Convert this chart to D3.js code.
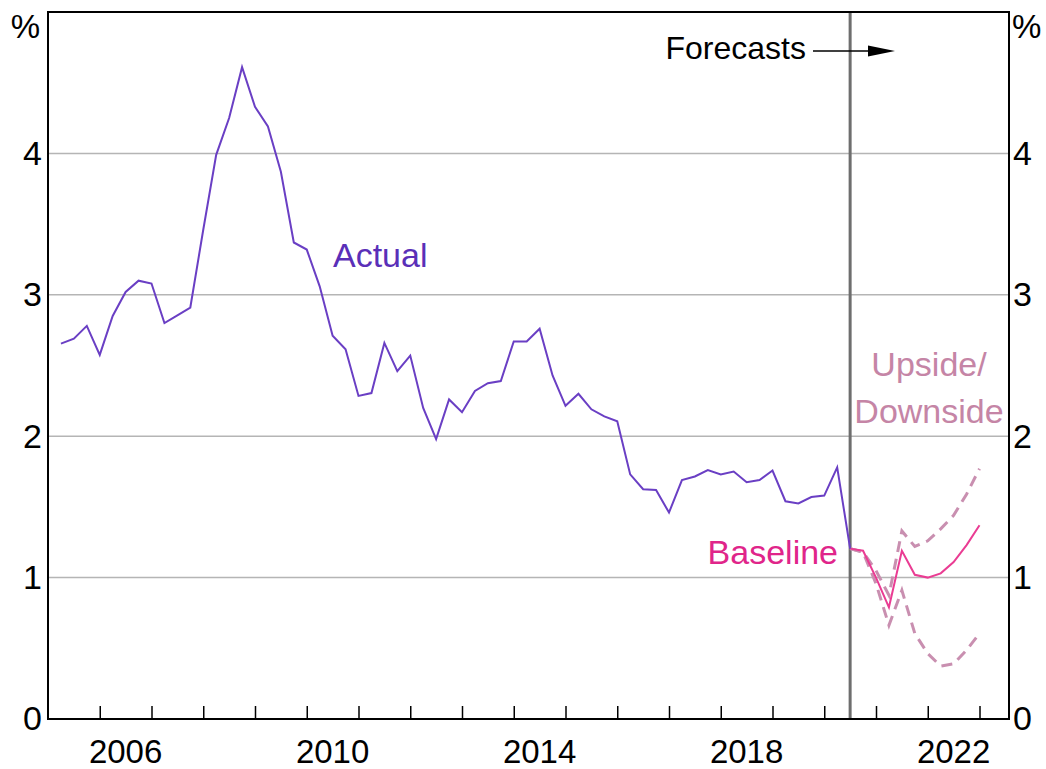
<!DOCTYPE html>
<html>
<head>
<meta charset="utf-8">
<script src="https://cdn.jsdelivr.net/npm/d3@7"></script>
<style>
  body { margin: 0; background: #fff; }
  svg text { font-family: "Liberation Sans", Arial, sans-serif; }
</style>
</head>
<body>
<svg width="1046" height="769"></svg>
<script>
// Year-ended growth, %, quarterly (quarter-end dates)
var actualValues = [2.655, 2.69, 2.78, 2.575, 2.85, 3.02, 3.10, 3.08, 2.80, 2.855, 2.91, 3.46,
  3.99, 4.25, 4.61, 4.33, 4.19, 3.87, 3.37, 3.32, 3.06, 2.71, 2.615, 2.285,
  2.305, 2.66, 2.46, 2.57, 2.20, 1.98, 2.26, 2.17, 2.32, 2.375, 2.39, 2.67,
  2.67, 2.76, 2.43, 2.215, 2.30, 2.19, 2.14, 2.105, 1.73, 1.625, 1.62, 1.46,
  1.69, 1.715, 1.76, 1.73, 1.75, 1.675, 1.69, 1.757, 1.54, 1.525, 1.57, 1.58,
  1.78, 1.205];
var baselineValues = [1.205, 1.19, 1.00, 0.79, 1.19, 1.02, 1.00, 1.03, 1.11, 1.23, 1.37];
var upsideValues   = [1.205, 1.18, 1.05, 0.875, 1.33, 1.22, 1.26, 1.345, 1.44, 1.59, 1.77];
var downsideValues = [1.205, 1.18, 0.957, 0.663, 0.91, 0.605, 0.463, 0.374, 0.39, 0.487, 0.605];
var actualStart = [2005, 1];   // March quarter 2005
var forecastStart = [2020, 2]; // June quarter 2020
var yTicks = [0, 1, 2, 3, 4];
var yearTicks = d3.range(2006, 2024);
var yearLabels = [2006, 2010, 2014, 2018, 2022];

// quarter -> fractional year at quarter end
function quarters(start, n) {
  return d3.range(n).map(function(i) {
    var q = start[1] - 1 + i;
    return start[0] + Math.floor(q / 4) + ((q % 4) + 1) / 4;
  });
}
function pairs(start, vals) {
  var t = quarters(start, vals.length);
  return vals.map(function(v, i) { return [t[i], v]; });
}

var svg = d3.select("svg");
var plotLeft = 48, plotRight = 1009, plotTop = 12, plotBottom = 719;

var x = d3.scaleLinear().domain([2005, 2023.57]).range([plotLeft, plotRight]);
var y = d3.scaleLinear().domain([0, 5]).range([plotBottom, plotTop]);

var line = d3.line().x(function(d) { return x(d[0]); }).y(function(d) { return y(d[1]); });

// gridlines
svg.append("g").selectAll("line")
  .data(yTicks.filter(function(d) { return d > 0; }))
  .enter().append("line")
  .attr("x1", plotLeft).attr("x2", plotRight)
  .attr("y1", function(d) { return y(d); }).attr("y2", function(d) { return y(d); })
  .attr("stroke", "#b5b5b5").attr("stroke-width", 1.5);

// year ticks (inside, from bottom)
var xAxis = svg.append("g")
  .attr("transform", "translate(0," + plotBottom + ")")
  .call(d3.axisBottom(x).tickValues(yearTicks).tickSize(-13).tickFormat(""));
xAxis.select(".domain").remove();
xAxis.selectAll("line").attr("stroke", "#000").attr("stroke-width", 1.5);

// year labels at mid-year
svg.append("g").selectAll("text")
  .data(yearLabels)
  .enter().append("text")
  .attr("x", function(d) { return x(d + 0.5); })
  .attr("y", 763)
  .attr("text-anchor", "middle")
  .attr("font-size", 33)
  .text(function(d) { return d; });

// y labels both sides
var yl = d3.axisLeft(y).tickValues(yTicks).tickSize(0).tickPadding(6).tickFormat(d3.format("d"));
var gl = svg.append("g").attr("transform", "translate(" + plotLeft + ",0)").call(yl);
var yr = d3.axisRight(y).tickValues(yTicks).tickSize(0).tickPadding(4).tickFormat(d3.format("d"));
var gr = svg.append("g").attr("transform", "translate(" + plotRight + ",0)").call(yr);
[gl, gr].forEach(function(g) {
  g.select(".domain").remove();
  g.selectAll("text").attr("font-size", 34).attr("font-family", "Liberation Sans, Arial, sans-serif").attr("fill", "#000");
});

svg.append("text").attr("x", 40).attr("y", 38).attr("text-anchor", "end").attr("font-size", 33).text("%");
svg.append("text").attr("x", 1012).attr("y", 38).attr("text-anchor", "start").attr("font-size", 33).text("%");

// forecast divider
var xf = x(quarters(forecastStart, 1)[0]);
svg.append("line")
  .attr("x1", xf).attr("x2", xf).attr("y1", plotTop).attr("y2", plotBottom)
  .attr("stroke", "#6e6e6e").attr("stroke-width", 3);

// series
svg.append("path").datum(pairs(forecastStart, upsideValues))
  .attr("d", line).attr("fill", "none")
  .attr("stroke", "#c98fb0").attr("stroke-width", 3).attr("stroke-dasharray", "11,7");
svg.append("path").datum(pairs(forecastStart, downsideValues))
  .attr("d", line).attr("fill", "none")
  .attr("stroke", "#c98fb0").attr("stroke-width", 3).attr("stroke-dasharray", "11,7");
svg.append("path").datum(pairs(forecastStart, baselineValues))
  .attr("d", line).attr("fill", "none")
  .attr("stroke", "#ea3c93").attr("stroke-width", 2);
svg.append("path").datum(pairs(actualStart, actualValues))
  .attr("d", line).attr("fill", "none")
  .attr("stroke", "#6a3fc4").attr("stroke-width", 2);

// frame
svg.append("rect")
  .attr("x", plotLeft).attr("y", plotTop).attr("width", plotRight - plotLeft).attr("height", plotBottom - plotTop)
  .attr("fill", "none").attr("stroke", "#000").attr("stroke-width", 2);

// annotations
svg.append("text").attr("x", 333).attr("y", 267).attr("font-size", 34)
  .attr("fill", "#5a2fb8").text("Actual");
svg.append("text").attr("x", 838).attr("y", 564).attr("text-anchor", "end").attr("font-size", 34)
  .attr("fill", "#e0258a").text("Baseline");
svg.append("text").attr("x", 929).attr("y", 376).attr("text-anchor", "middle").attr("font-size", 34)
  .attr("fill", "#c585a6").text("Upside/");
svg.append("text").attr("x", 929).attr("y", 423).attr("text-anchor", "middle").attr("font-size", 34)
  .attr("fill", "#c585a6").text("Downside");

svg.append("text").attr("x", 806).attr("y", 59).attr("text-anchor", "end").attr("font-size", 32)
  .attr("fill", "#000").text("Forecasts");
svg.append("line").attr("x1", 813).attr("x2", 872).attr("y1", 51).attr("y2", 51)
  .attr("stroke", "#000").attr("stroke-width", 1.5);
svg.append("path").attr("d", "M868,45.5L895,51L868,56.5Z").attr("fill", "#000");
</script>
</body>
</html>
